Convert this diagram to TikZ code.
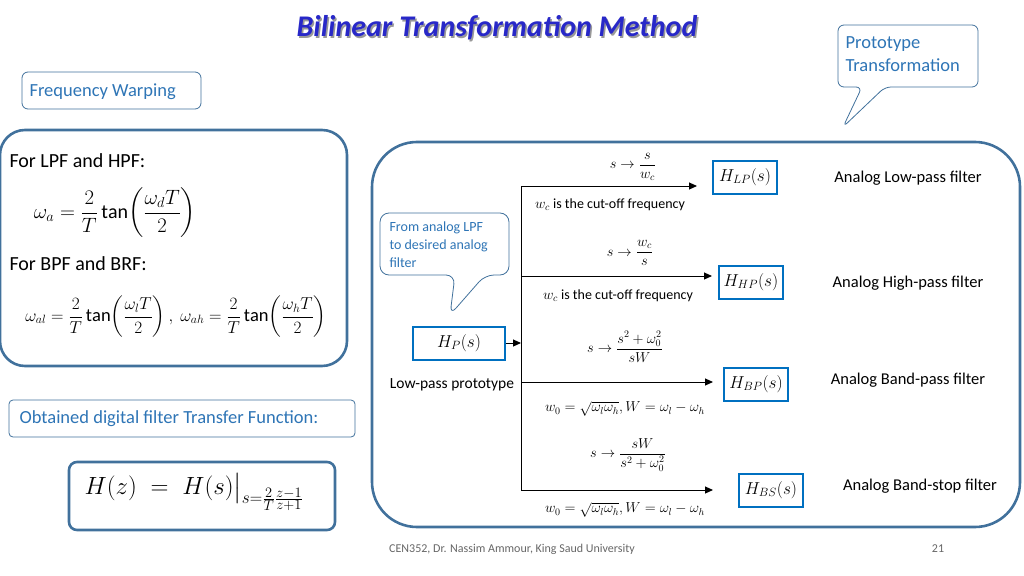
\documentclass[tikz,border=0pt]{standalone}
\usepackage{amsmath}
\usepackage{fontspec}
\setmainfont{Carlito}
\usetikzlibrary{arrows.meta}
\definecolor{frame}{RGB}{65,113,156}
\definecolor{callt}{RGB}{46,117,182}
\definecolor{boxb}{RGB}{0,112,192}
\definecolor{ttl}{RGB}{40,40,200}
\begin{document}
\begin{tikzpicture}[x=1pt,y=-1pt,
  panel/.style={draw=frame,line width=2.6pt},
  call/.style={draw=frame,line width=0.8pt,fill=white,rounded corners=6pt},
  calltext/.style={text=callt,align=left,anchor=north west},
  hbox/.style={draw=boxb,line width=2pt,minimum width=64pt,minimum height=33pt,font=\fontsize{17}{19}\selectfont},
  lab/.style={font=\fontsize{16.5}{19}\selectfont},
  sm/.style={font=\fontsize{14}{16}\selectfont},
  arr/.style={line width=1pt,-{Triangle[length=8pt,width=7pt]}}]
\useasboundingbox (0,0) rectangle (1024,575);
% title
\node[font=\bfseries\itshape\fontsize{30}{32}\selectfont,text=black!40] (tsh) at (498.5,29.5) {Bilinear Transformation Method};
\node[font=\bfseries\itshape\fontsize{30}{32}\selectfont,text=ttl] (title) at (497,28) {Bilinear Transformation Method};
% prototype callout
\draw[call] (838,25) -- (978,25) -- (978,87) -- (885,87) -- (843,127) -- (862,87) -- (838,87) -- cycle;
\node[calltext,font=\fontsize{18.5}{23}\selectfont] (pt) at (842,33) {Prototype\\Transformation};
% frequency warping callout
\draw[call] (22,72) rectangle (201,109);
\node[calltext,font=\fontsize{18.5}{20}\selectfont,anchor=west] (fw) at (26,92) {Frequency Warping};
% left panel
\draw[panel,rounded corners=25pt] (0,130) rectangle (347,366);
\node[anchor=west,font=\fontsize{20}{22}\selectfont] (l1) at (6,161) {For LPF and HPF:};
\node (f1) at (115,213) {\fontsize{20}{24}\selectfont$\displaystyle \omega_a=\frac{2}{T}\tan\!\left(\frac{\omega_d T}{2}\right)$};
\node[anchor=west,font=\fontsize{20}{22}\selectfont] (l2) at (6,264) {For BPF and BRF:};
\node (f2) at (176,317) {\fontsize{18.5}{22}\selectfont$\displaystyle \omega_{al}=\frac{2}{T}\tan\!\left(\frac{\omega_l T}{2}\right),\ \omega_{ah}=\frac{2}{T}\tan\!\left(\frac{\omega_h T}{2}\right)$};
% obtained callout
\draw[call,rounded corners=4pt] (9,400) rectangle (355,437);
\node[calltext,font=\fontsize{18.5}{20}\selectfont,anchor=west] (ob) at (16,419) {Obtained digital filter Transfer Function:};
% H(z) box
\draw[panel,rounded corners=8pt] (69,462) rectangle (335,530);
\node (hz) at (194,492) {\fontsize{27}{30}\selectfont$H(z)\;=\;H(s)\big|_{s=\frac{2}{T}\frac{z-1}{z+1}}$};
% right panel
\draw[panel,rounded corners=45pt] (372,142) rectangle (1020,527);
% callout in right panel
\draw[call,rounded corners=9pt] (380,213) -- (509,213) -- (509,275) -- (485,275) -- (450,315) -- (455,275) -- (380,275) -- cycle;
\node[calltext,font=\fontsize{14}{18}\selectfont] (cl) at (386,218) {From analog LPF\\to desired analog\\filter};
\node[hbox,minimum width=92pt] (hp) at (459,343) {$H_P(s)$};
\node[font=\fontsize{15.5}{18}\selectfont] (lpp) at (452,385) {Low-pass prototype};
\coordinate (j) at (521,343);
\coordinate (top) at (521,186);
\coordinate (bot) at (521,490);
\draw[line width=1pt] (top) -- (bot);
\draw[arr] (hp.east) -- (j);
\node[hbox] (hlp) at (745,177) {$H_{LP}(s)$};
\node[hbox] (hhp) at (751,282) {$H_{HP}(s)$};
\node[hbox] (hbp) at (756,384) {$H_{BP}(s)$};
\node[hbox] (hbs) at (771,490) {$H_{BS}(s)$};
\coordinate (a1) at (697,186);
\coordinate (a2) at (712,276);
\coordinate (a3) at (713,382);
\coordinate (a4) at (713,490);
\coordinate (s1) at (521,276);
\coordinate (s3) at (521,382);
\draw[arr] (top) -- (a1);
\draw[arr] (s1) -- (a2);
\draw[arr] (s3) -- (a3);
\draw[arr] (bot) -- (a4);
\node[lab] (n1) at (908,178) {Analog Low-pass filter};
\node[lab] (n2) at (908,283) {Analog High-pass filter};
\node[lab] (n3) at (908,380) {Analog Band-pass filter};
\node[lab] (n4) at (920,486) {Analog Band-stop filter};
\node[sm] (e1) at (633,167) {$s\to\dfrac{s}{w_c}$};
\node[sm] (c1) at (610,205) {$w_c$ is the cut-off frequency};
\node[sm] (e2) at (630,253) {$s\to\dfrac{w_c}{s}$};
\node[sm] (c2) at (618,296) {$w_c$ is the cut-off frequency};
\node[sm] (e3) at (625,347) {$s\to\dfrac{s^2+\omega_0^2}{sW}$};
\node[sm] (c3) at (625,409) {$w_0=\sqrt{\omega_l\omega_h},W=\omega_l-\omega_h$};
\node[sm] (e4) at (628,455) {$s\to\dfrac{sW}{s^2+\omega_0^2}$};
\node[sm] (c4) at (625,510) {$w_0=\sqrt{\omega_l\omega_h},W=\omega_l-\omega_h$};
% footer
\node[text=black!60,font=\fontsize{12}{14}\selectfont] (ft) at (512,549) {CEN352, Dr. Nassim Ammour, King Saud University};
\node[text=black!60,font=\fontsize{12}{14}\selectfont] (pg) at (938,549) {21};
\end{tikzpicture}
\end{document}
